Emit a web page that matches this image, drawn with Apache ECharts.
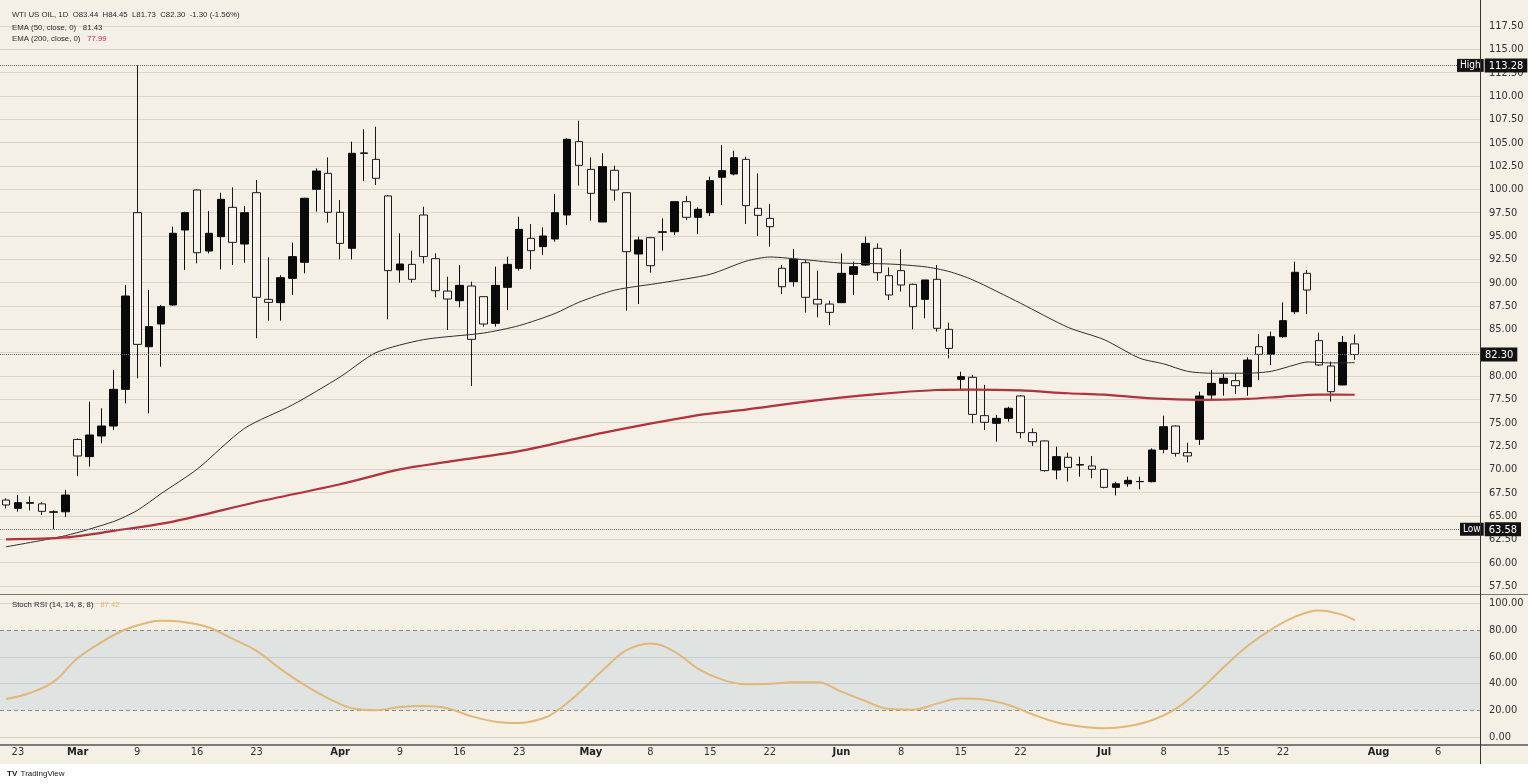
<!DOCTYPE html>
<html><head><meta charset="utf-8">
<script src="https://cdn.jsdelivr.net/npm/echarts@6/dist/echarts.min.js"></script>
<style>html,body{margin:0;padding:0;background:#f4f0e6}#c{width:1528px;height:784px}</style>
</head><body><div id="c"></div><script>
// ---- categories: trading days (bars) then projected calendar days ----
const dates = [
'2026-02-20','2026-02-23','2026-02-24','2026-02-25','2026-02-26','2026-02-27',
'2026-03-02','2026-03-03','2026-03-04','2026-03-05','2026-03-06',
'2026-03-09','2026-03-10','2026-03-11','2026-03-12','2026-03-13',
'2026-03-16','2026-03-17','2026-03-18','2026-03-19','2026-03-20',
'2026-03-23','2026-03-24','2026-03-25','2026-03-26','2026-03-27',
'2026-03-30','2026-03-31','2026-04-01','2026-04-02',
'2026-04-06','2026-04-07','2026-04-08','2026-04-09','2026-04-10',
'2026-04-13','2026-04-14','2026-04-15','2026-04-16','2026-04-17',
'2026-04-20','2026-04-21','2026-04-22','2026-04-23','2026-04-24',
'2026-04-27','2026-04-28','2026-04-29','2026-04-30','2026-05-01',
'2026-05-04','2026-05-05','2026-05-06','2026-05-07','2026-05-08',
'2026-05-11','2026-05-12','2026-05-13','2026-05-14','2026-05-15',
'2026-05-18','2026-05-19','2026-05-20','2026-05-21','2026-05-22',
'2026-05-25','2026-05-26','2026-05-27','2026-05-28','2026-05-29',
'2026-06-01','2026-06-02','2026-06-03','2026-06-04','2026-06-05',
'2026-06-08','2026-06-09','2026-06-10','2026-06-11','2026-06-12',
'2026-06-15','2026-06-16','2026-06-17','2026-06-18','2026-06-19',
'2026-06-22','2026-06-23','2026-06-24','2026-06-25','2026-06-26',
'2026-06-29','2026-06-30','2026-07-01','2026-07-02','2026-07-03',
'2026-07-06','2026-07-07','2026-07-08','2026-07-09','2026-07-10',
'2026-07-13','2026-07-14','2026-07-15','2026-07-16','2026-07-17',
'2026-07-20','2026-07-21','2026-07-22','2026-07-23','2026-07-24',
'2026-07-27','2026-07-28','2026-07-29','2026-07-30',
'2026-07-31','2026-08-01','2026-08-02','2026-08-03','2026-08-04','2026-08-05','2026-08-06','2026-08-07','2026-08-08','2026-08-09'
];

const open = [66.71,65.82,66.45,66.30,65.40,65.45, 73.20,71.36,73.57,74.64,78.57, 97.50,83.14,85.57,87.61,95.64, 99.93,93.39,94.93,98.07,94.14, 99.64,88.21,87.86,90.46,92.18, 100.00,101.71,97.54,93.68, 103.86,103.21,99.29,91.36,91.96, 97.25,92.57,89.10,88.07,89.64, 88.50,85.64,89.50,91.54,94.75, 93.86,94.68,97.25,105.11,102.14, 96.50,102.04,99.64,93.07,94.82, 95.40,95.46,98.68,97.00,97.50, 101.29,101.64,103.21,97.96,96.89, 91.54,90.11,92.14,88.21,87.71, 87.86,90.89,91.89,93.68,90.75, 91.29,89.82,88.21,90.36,85.00, 79.64,79.86,75.75,74.93,75.46, 77.86,73.93,73.04,69.93,71.29, 70.46,70.36,70.00,68.07,68.45, 68.68,68.68,72.14,74.64,71.79, 73.21,77.96,79.21,79.50,78.86, 83.14,82.32,84.21,86.89,91.00, 83.79,81.07,79.04,83.44];
const high = [66.90,67.25,67.10,66.50,65.60,67.80, 73.30,77.25,76.54,80.64,89.75, 113.28,89.21,87.60,96.00,97.60, 100.00,97.68,99.64,100.21,98.21, 101.00,92.71,90.80,94.29,99.10, 102.25,103.43,98.86,105.11, 106.43,106.71,99.40,95.29,93.43, 98.14,93.14,90.64,91.89,90.11, 88.50,91.71,92.79,97.07,96.29, 95.93,99.50,105.50,107.36,103.43, 103.86,102.54,99.70,94.93,94.90, 96.89,98.70,99.29,98.07,101.36, 104.75,104.14,103.50,101.71,98.43, 91.89,93.61,92.43,91.29,88.07, 93.14,92.25,94.93,94.21,91.64, 93.57,89.90,90.30,91.89,85.71, 80.46,80.11,79.04,75.82,76.71, 77.96,74.39,73.10,72.43,71.79, 71.36,71.43,70.05,68.68,69.21, 69.21,72.25,75.75,74.70,72.86, 78.32,80.64,80.21,80.29,82.00, 84.50,84.75,87.89,92.25,91.36, 84.64,81.54,84.29,84.45];
const low = [65.80,65.46,65.60,65.10,63.58,64.90, 69.29,70.29,72.79,74.21,77.07, 79.75,76.00,81.00,87.50,91.36, 92.07,93.14,91.43,91.89,92.14, 84.04,85.93,85.93,88.68,91.00, 97.61,96.43,92.50,92.50, 100.89,100.46,86.07,90.00,90.00, 92.07,88.43,84.93,87.36,78.93, 85.29,85.29,87.07,91.29,91.43, 92.96,94.39,96.18,100.39,96.64, 96.50,98.79,87.00,87.71,91.07, 93.43,95.11,96.71,95.21,97.14, 98.32,101.50,96.29,95.00,93.86, 88.79,89.57,86.79,86.29,85.46, 87.80,88.68,91.80,90.21,88.14, 89.04,85.00,86.18,84.75,81.89, 78.57,74.93,74.21,72.96,75.11, 73.32,72.50,69.75,68.93,68.68, 69.21,69.04,67.96,67.20,68.14, 67.86,68.60,71.71,71.36,70.75, 72.61,77.43,77.89,78.07,77.89, 79.57,81.18,84.10,86.64,86.64, 81.07,77.25,79.00,81.73];
const close = [66.18,66.43,66.35,65.50,65.45,67.25, 71.43,73.68,74.64,78.57,88.57, 83.39,85.29,87.43,95.29,97.50, 93.21,95.29,98.93,94.32,97.50, 88.43,87.89,90.54,92.79,99.04, 101.96,97.54,94.21,103.86, 103.90,101.18,91.29,92.00,90.36, 92.79,89.14,88.25,89.71,83.93, 85.57,89.71,91.96,95.71,93.43, 95.00,97.50,105.36,102.57,99.57, 102.43,99.93,93.32,94.57,91.82, 95.45,98.68,97.00,97.86,100.93, 102.00,103.39,98.25,97.21,96.00, 89.57,92.50,88.43,87.71,86.82, 91.00,91.71,94.21,91.07,88.68, 89.75,87.43,90.29,85.11,82.96, 79.93,75.89,75.04,75.46,76.54, 73.93,72.96,69.86,71.36,70.21, 70.50,70.00,68.07,68.45,68.82, 68.70,72.07,74.57,71.71,71.43, 77.86,79.21,79.75,78.96,81.71, 82.32,84.21,85.93,91.11,89.21, 81.18,78.32,83.60,82.30];

// EMA lines: [bar index, value]
const ema50 = [[0,61.7],[5,62.9],[9,64.4],[11,65.6],[13,67.4],[16,70.0],[20,74.4],[24,76.9],[28,79.9],[31,82.5],[35,83.9],[40,84.6],[43,85.4],[46,86.7],[48,87.9],[51,89.2],[55,90.0],[59,90.9],[62,92.3],[64,92.75],[67,92.45],[70,92.1],[74,92.0],[77,91.7],[79,91.2],[81,90.3],[85,87.8],[89,85.2],[92,83.9],[95,81.9],[97,81.3],[99,80.5],[101,80.3],[104,80.3],[106,80.5],[108,81.2],[109,81.5],[111,81.4],[113,81.43]];
const ema200 = [[0,62.5],[5,62.7],[9,63.4],[14,64.4],[21,66.5],[28,68.4],[33,70.0],[37,70.8],[43,71.95],[50,73.9],[58,75.8],[62,76.4],[67,77.25],[73,78.05],[78,78.5],[81,78.55],[85,78.45],[89,78.15],[92,78.0],[96,77.6],[100,77.45],[104,77.55],[107,77.8],[110,78.0],[113,77.99]];
// Stoch RSI (14,14,8,8): [bar index, value]
const stochRsi = [[0,28.5],[2,33],[4,41.5],[6,59],[8,71],[10,80.5],[12,86],[13,87],[15,86],[17,82],[19,73.5],[21,64.5],[23,51],[25,39],[27,29],[29,21.5],[31,20],[33,22.5],[35,23.2],[37,21.5],[39,15.5],[41,11.5],[43,10.5],[45,14],[46,18.5],[48,33],[50,50],[52,65],[54,70],[56,64],[58,51],[60,43],[62,39.5],[64,39.8],[66,41],[68,41],[70,34],[72,27],[74,21],[76,20.5],[78,25],[80,28.8],[82,28],[84,24],[86,17],[88,11],[90,7.8],[92,6.5],[94,8],[96,12.5],[98,21],[100,35],[102,52],[104,68],[106,80.5],[108,90],[110,94.8],[112,91.5],[113,87.42]];

const xTickLabels = {
 '2026-02-23':'23','2026-03-02':'Mar','2026-03-09':'9','2026-03-16':'16','2026-03-23':'23',
 '2026-04-01':'Apr','2026-04-09':'9','2026-04-16':'16','2026-04-23':'23',
 '2026-05-01':'May','2026-05-08':'8','2026-05-15':'15','2026-05-22':'22',
 '2026-06-01':'Jun','2026-06-08':'8','2026-06-15':'15','2026-06-22':'22',
 '2026-07-01':'Jul','2026-07-08':'8','2026-07-15':'15','2026-07-22':'22',
 '2026-08-01':'Aug','2026-08-06':'6'
};
const monthNames = ['Jan','Feb','Mar','Apr','May','Jun','Jul','Aug','Sep','Oct','Nov','Dec'];
const symbolName = 'WTI US OIL, 1D';
const rsiBands = [20, 80];

// ---- derived ----
const n = open.length;
const candles = open.map((o, i) => [o, close[i], low[i], high[i]]);
const hi = Math.max(...high), lo = Math.min(...low), last = close[n - 1];
const chg = last - close[n - 2];
const pct = chg / close[n - 2] * 100;
const f2 = v => v.toFixed(2);

const BG = '#f4f0e6';
const AX_FONT = "'Liberation Sans Narrow','DejaVu Sans Condensed',sans-serif";
const HD_FONT = "'Liberation Sans','DejaVu Sans',sans-serif";

const chart = echarts.init(document.getElementById('c'), null, {renderer: 'canvas'});
const boxRich = {
  t: {backgroundColor: '#121212', color: '#fff', padding: [2, 3, 1, 3], fontSize: 10, fontFamily: AX_FONT},
  g: {width: 1},
  v: {backgroundColor: '#121212', color: '#fff', padding: [2, 4, 1, 4], fontSize: 11, fontFamily: AX_FONT}
};

chart.setOption({
  animation: false,
  backgroundColor: BG,
  grid: [
    {left: 0, right: 48, top: 2.667, height: 606.667},
    {left: 0, right: 48, top: 603.5, height: 133.5}
  ],
  xAxis: [
    {gridIndex: 0, type: 'category', data: dates, boundaryGap: true,
     axisLine: {show: false}, axisTick: {show: false}, axisLabel: {show: false}, splitLine: {show: false}},
    {gridIndex: 1, type: 'category', data: dates, boundaryGap: true,
     axisLine: {show: false}, axisTick: {show: false}, splitLine: {show: false},
     axisLabel: {
       show: true, margin: 10, color: '#333', fontSize: 11, fontFamily: AX_FONT,
       hideOverlap: false, showMinLabel: true, showMaxLabel: true,
       interval: (idx, val) => xTickLabels[val] !== undefined,
       formatter: val => {
         const t = xTickLabels[val];
         if (t === undefined) return '';
         return monthNames.includes(t) ? '{b|' + t + '}' : t;
       },
       rich: {b: {fontWeight: 'bold', fontSize: 11, fontFamily: AX_FONT, color: '#222'}}
     }}
  ],
  yAxis: [
    {gridIndex: 0, type: 'value', position: 'right', min: 55, max: 120, interval: 2.5,
     axisLine: {show: false}, axisTick: {show: false},
     axisLabel: {margin: 9, color: '#333', fontSize: 11, fontFamily: AX_FONT,
       formatter: v => (v <= 55 || v >= 120) ? '' : f2(v)},
     splitLine: {show: true, showMinLine: false, showMaxLine: false, lineStyle: {color: '#d9d4c9', width: 1}}},
    {gridIndex: 1, type: 'value', position: 'right', min: 0, max: 100, interval: 20,
     axisLine: {show: false}, axisTick: {show: false},
     axisLabel: {margin: 9, color: '#333', fontSize: 11, fontFamily: AX_FONT, formatter: v => f2(v)},
     splitLine: {show: true, lineStyle: {color: ['#d9d4c9', 'transparent', '#c9cfcf', '#c9cfcf', 'transparent', '#d9d4c9'], width: 1}}}
  ],
  series: [
    {
      name: 'WTI', type: 'candlestick', xAxisIndex: 0, yAxisIndex: 0, data: candles,
      barWidth: 8,
      itemStyle: {color: '#0a0a0a', color0: '#f7f3ec', borderColor: '#0a0a0a', borderColor0: '#1a1a1a', borderWidth: 1},
      markLine: {
        silent: true, symbol: 'none', animation: false,
        lineStyle: {type: 'dotted', color: '#6e6e6e', width: 1},
        label: {show: true, position: 'end', distance: 1, rich: boxRich},
        data: [
          {yAxis: hi, label: {formatter: '{t|High}{g|}{v|' + f2(hi) + '}', offset: [-24, 0]}},
          {yAxis: lo, label: {formatter: '{t|Low}{g|}{v|' + f2(lo) + '}', offset: [-21, 0]}},
          {yAxis: last, label: {formatter: '{v|' + f2(last) + '}'}}
        ]
      }
    },
    {name: 'EMA50', type: 'line', xAxisIndex: 0, yAxisIndex: 0, data: ema50, showSymbol: false, smooth: 0.25,
     lineStyle: {color: '#2e2e2e', width: 1}, z: 3},
    {name: 'EMA200', type: 'line', xAxisIndex: 0, yAxisIndex: 0, data: ema200, showSymbol: false, smooth: 0.3,
     lineStyle: {color: '#b3303c', width: 2.2}, z: 3},
    {name: 'StochRSI', type: 'line', xAxisIndex: 1, yAxisIndex: 1, data: stochRsi, showSymbol: false, smooth: 0.4,
     lineStyle: {color: '#e0b877', width: 2}, z: 5,
     markArea: {silent: true, itemStyle: {color: '#dfe4e3'}, data: [[{yAxis: rsiBands[0]}, {yAxis: rsiBands[1]}]]},
     markLine: {silent: true, symbol: 'none', label: {show: false},
       data: [
         {yAxis: rsiBands[0], lineStyle: {type: [4, 3], color: '#8a8a8a', width: 1}},
         {yAxis: rsiBands[1], lineStyle: {type: [4, 3], color: '#8a8a8a', width: 1}},
         {yAxis: 40, lineStyle: {type: 'solid', color: '#c6cdce', width: 1}},
         {yAxis: 60, lineStyle: {type: 'solid', color: '#c6cdce', width: 1}}
       ]}}
  ],
  graphic: [
    {type: 'rect', z: 50, shape: {x: 0, y: 764, width: 1528, height: 20}, style: {fill: '#ffffff'}},
    {type: 'line', z: 60, shape: {x1: 0, y1: 594.5, x2: 1528, y2: 594.5}, style: {stroke: '#7d786e', lineWidth: 1.2}},
    {type: 'line', z: 60, shape: {x1: 0, y1: 745, x2: 1528, y2: 745}, style: {stroke: '#555', lineWidth: 1.5}},
    {type: 'line', z: 60, shape: {x1: 1480.5, y1: 0, x2: 1480.5, y2: 764}, style: {stroke: '#333', lineWidth: 1}},
    {type: 'text', z: 70, left: 12, top: 11, style: {
      text: '{a|' + symbolName + '  O' + f2(open[n-1]) + '  H' + f2(high[n-1]) + '  L' + f2(low[n-1]) + '  C' + f2(last) + '  ' + f2(chg) + ' (' + f2(pct) + '%)}',
      rich: {a: {fontSize: 7.8, fontFamily: HD_FONT, fill: '#2a2a2a'}}}},
    {type: 'text', z: 70, left: 12, top: 22, style: {
      text: '{a|EMA (50, close, 0)}  {b|' + f2(ema50[ema50.length-1][1]) + '}',
      rich: {a: {fontSize: 7.8, fontFamily: HD_FONT, fill: '#2a2a2a'}, b: {fontSize: 7.8, fontFamily: HD_FONT, fill: '#2a2a2a'}}}},
    {type: 'text', z: 70, left: 12, top: 33, style: {
      text: '{a|EMA (200, close, 0)}  {b|' + f2(ema200[ema200.length-1][1]) + '}',
      rich: {a: {fontSize: 7.8, fontFamily: HD_FONT, fill: '#2a2a2a'}, b: {fontSize: 7.8, fontFamily: HD_FONT, fill: '#b3303c'}}}},
    {type: 'text', z: 70, left: 12, top: 599, style: {
      text: '{a|Stoch RSI (14, 14, 8, 8)}  {b|' + f2(stochRsi[stochRsi.length-1][1]) + '}',
      rich: {a: {fontSize: 7.8, fontFamily: HD_FONT, fill: '#2a2a2a'}, b: {fontSize: 7.8, fontFamily: HD_FONT, fill: '#e0b877'}}}},
    {type: 'text', z: 70, left: 7, top: 768, style: {
      text: '{l|TV} {a|TradingView}',
      rich: {l: {fontSize: 8, fontWeight: 900, fontFamily: HD_FONT, fill: '#131722'}, a: {fontSize: 8, fontFamily: HD_FONT, fill: '#131722'}}}}
  ]
});
</script></body></html>
